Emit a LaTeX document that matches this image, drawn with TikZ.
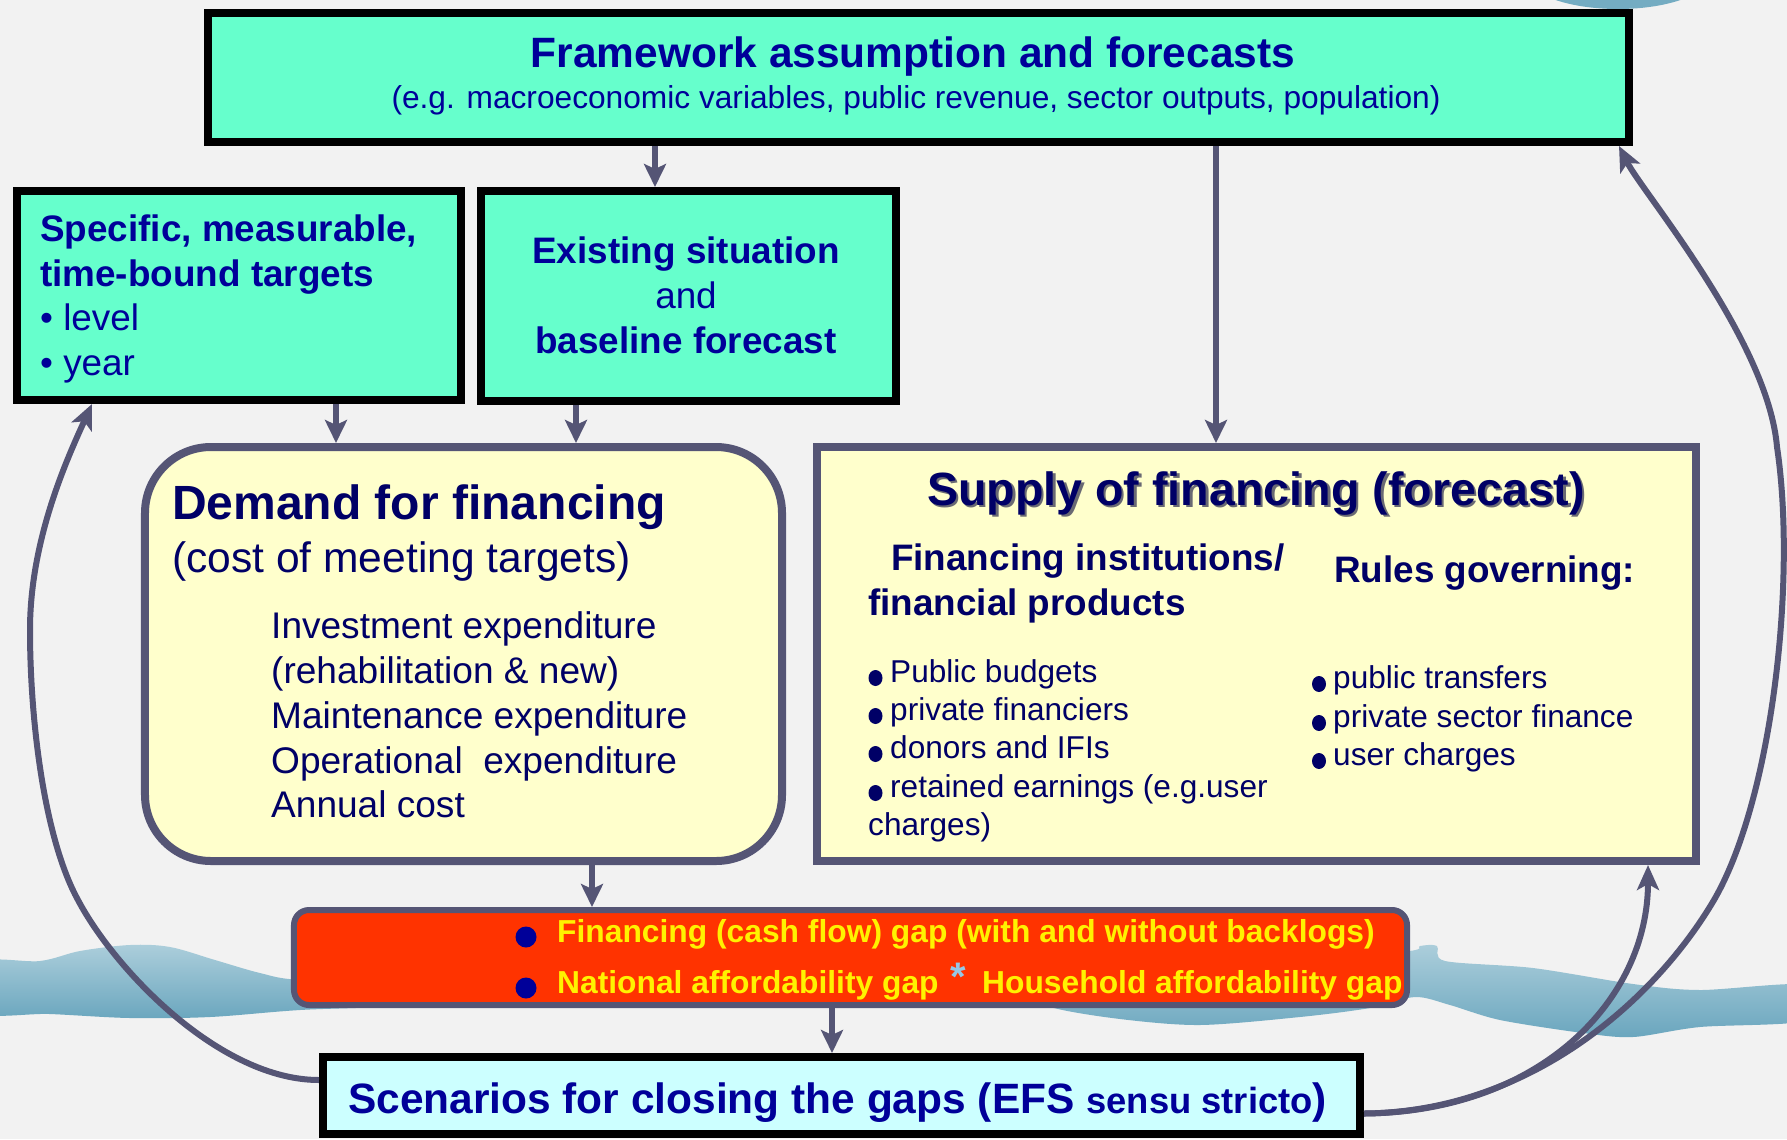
\documentclass[tikz,border=0pt]{standalone}
\usepackage{fontspec}
\setmainfont{Liberation Sans}
\usetikzlibrary{arrows.meta}

\definecolor{mint}{RGB}{102,255,204}
\definecolor{cream}{RGB}{255,255,204}
\definecolor{gapred}{RGB}{255,51,0}
\definecolor{palecyan}{RGB}{204,255,255}
\definecolor{slate}{RGB}{85,85,117}
\definecolor{navyA}{RGB}{0,0,153}
\definecolor{navyB}{RGB}{0,0,102}
\definecolor{paper}{RGB}{242,242,242}
\definecolor{waveTop}{RGB}{172,206,219}
\definecolor{waveBot}{RGB}{106,166,190}
\definecolor{starblue}{RGB}{150,200,230}
\definecolor{shadowgray}{RGB}{105,105,115}

\newcommand\fs[1]{\fontsize{#1}{#1}\selectfont}

\begin{document}
\begin{tikzpicture}[x=1bp, y=-1bp,
  every node/.style={inner sep=0pt},
  tl/.style={anchor=base west},
  tc/.style={anchor=base},
  bx/.style={rectangle, draw, line width=8bp},
  arr/.style={draw=slate, line width=6.5bp, -{Stealth[length=23bp,width=22bp,inset=5bp]}},
  loop/.style={draw=slate, line width=6bp, -{Stealth[length=25bp,width=22bp,inset=6bp]}}]

% page and background
\useasboundingbox (0,0) rectangle (1787,1139);
\fill[paper] (0,0) rectangle (1787,1139);

% water bands
\fill[waveBot!85!waveTop] (1618,-25) ellipse [x radius=92bp, y radius=34bp];
\shade[top color=waveTop, bottom color=waveBot] plot[smooth cycle, tension=0.55] coordinates
  {(-20,963) (40,961) (80,951) (130,945) (170,947) (215,960) (260,973) (300,980) (420,985)
   (420,1004) (300,1010) (210,1017) (130,1018) (50,1014) (-20,1012)};
\shade[top color=waveTop, bottom color=waveBot] plot[smooth cycle, tension=0.5] coordinates
  {(1000,985) (1200,965) (1400,952) (1420,946) (1437,946) (1445,961) (1533,968) (1633,984)
   (1700,990) (1810,985) (1810,1020) (1700,1027) (1633,1037) (1583,1033) (1500,1020)
   (1450,1005) (1415,997) (1370,1008) (1300,1017) (1200,1025) (1120,1019) (1050,1007)};

% boxes
\node[bx, fill=mint, minimum width=1421bp, minimum height=129bp] (fw) at (918.5,77.5) {};
\node[bx, fill=mint, minimum width=444bp, minimum height=209bp] (spec) at (239,295.5) {};
\node[bx, fill=mint, minimum width=415bp, minimum height=210bp] (exist) at (688.5,296) {};
\node[bx, draw=slate, fill=cream, rounded corners=66bp, minimum width=637bp, minimum height=414bp] (demand) at (463.5,654) {};
\node[bx, draw=slate, fill=cream, minimum width=879bp, minimum height=414bp] (supply) at (1256.5,654) {};
\node[rectangle, draw=slate, line width=6bp, fill=gapred, rounded corners=15bp, minimum width=1113bp, minimum height=95bp] (gap) at (850.5,957.5) {};
\node[bx, fill=palecyan, minimum width=1037bp, minimum height=77bp] (scen) at (841.5,1095.5) {};

% straight connectors
\draw[arr] (655,0 |- fw.south) -- (655,0 |- exist.north);
\draw[arr] (1216,0 |- fw.south) -- (1216,0 |- supply.north);
\draw[arr] (336,0 |- spec.south) -- (336,0 |- demand.north);
\draw[arr] (576,0 |- exist.south) -- (576,0 |- demand.north);
\draw[arr] (592,0 |- demand.south) -- (592,0 |- gap.north);
\draw[arr] (832,0 |- gap.south) -- (832,0 |- scen.north);

% framework text
\node[tc, font={\bfseries\fs{42.6}}, text=navyA] (fwT) at (913,67) {Framework assumption and forecasts};
\node[tc, font={\fs{31.8}}, text=navyA] (fwS) at (916,108) {(e.g. macroeconomic variables, public revenue, sector outputs, population)};

% targets
\node[tl, font={\bfseries\fs{37}}, text=navyA] (sp1) at (40,241) {Specific, measurable,};
\node[tl, font={\bfseries\fs{37}}, text=navyA] (sp2) at (40,286) {time-bound targets};
\node[tl, font={\fs{37}}, text=navyA] (sp3) at (40,330) {• level};
\node[tl, font={\fs{37}}, text=navyA] (sp4) at (40,375) {• year};

% existing situation
\node[tc, font={\bfseries\fs{37}}, text=navyA] (ex1) at (686,263) {Existing situation};
\node[tc, font={\fs{37}}, text=navyA] (ex2) at (686,308) {and};
\node[tc, font={\bfseries\fs{37}}, text=navyA] (ex3) at (686,353) {baseline forecast};

% demand
\node[tl, font={\bfseries\fs{48.2}}, text=navyB] (dm1) at (172,519) {Demand for financing};
\node[tl, font={\fs{42.7}}, text=navyB] (dm2) at (172,572) {(cost of meeting targets)};
\node[tl, font={\fs{37.2}}, text=navyB] (dm3) at (271,638) {Investment expenditure};
\node[tl, font={\fs{37.2}}, text=navyB] (dm4) at (271,683) {(rehabilitation \& new)};
\node[tl, font={\fs{37.2}}, text=navyB] (dm5) at (271,728) {Maintenance expenditure};
\node[tl, font={\fs{37.2}}, text=navyB] (dm6) at (271,773) {Operational\ \ expenditure};
\node[tl, font={\fs{37.2}}, text=navyB] (dm7) at (271,817) {Annual cost};

% supply
\node[tc, font={\bfseries\fs{46.8}}, text=shadowgray] (su0s) at (1258.5,507.5) {Supply of financing (forecast)};
\node[tc, font={\bfseries\fs{46.8}}, text=navyB] (su0) at (1256,505) {Supply of financing (forecast)};
\node[tl, font={\bfseries\fs{37}}, text=navyB] (su1) at (891,570) {Financing institutions/};
\node[tl, font={\bfseries\fs{37}}, text=navyB] (su2) at (868,615) {financial products};
\node[tl, font={\bfseries\fs{37}}, text=navyB] (su3) at (1334,582) {Rules governing:};

\foreach \yy/\txt [count=\i] in {682/Public budgets, 720/private financiers, 758/donors and IFIs, 797/{retained earnings (e.g.user}}{
  \fill[navyB] (875.5,\yy-4) ellipse [x radius=7bp, y radius=8bp];
  \node[tl, font={\fs{31.7}}, text=navyB] (sl\i) at (890,\yy) {\txt};
}
\node[tl, font={\fs{31.7}}, text=navyB] (sl5) at (868,835) {charges)};
\foreach \yy/\txt [count=\i] in {688/public transfers, 727/private sector finance, 765/user charges}{
  \fill[navyB] (1319,\yy-4) ellipse [x radius=7bp, y radius=8bp];
  \node[tl, font={\fs{31.7}}, text=navyB] (sr\i) at (1333,\yy) {\txt};
}

% gaps
\fill[navyA] (526,937) circle (10.5bp);
\fill[navyA] (526,988) circle (10.5bp);
\node[tl, font={\bfseries\fs{31.9}}, text=yellow] (g1) at (557,942) {Financing (cash flow) gap (with and without backlogs)};
\node[tl, font={\bfseries\fs{31.9}}, text=yellow] (g2) at (557,993) {National affordability gap};
\node[tc, font={\bfseries\fs{40}}, text=starblue] (g3) at (958,990) {*};
\node[tl, font={\bfseries\fs{31.9}}, text=yellow] (g4) at (982,993) {Household affordability gap};

% scenarios
\node[tl, font={\bfseries\fs{42.6}}, text=navyA] (sc) at (348,1113) {Scenarios for closing the gaps (EFS {\fs{36.5}sensu stricto})};

% feedback loops
\draw[loop] ([yshift=15.5bp]scen.west) .. controls (220,1080) and (115,970) .. (78,900)
  .. controls (44,838) and (30,720) .. (30,630)
  .. controls (30,540) and (67,459) .. ([xshift=79bp]spec.south west);
\draw[loop] ([yshift=-18bp]scen.east) .. controls (1540,1112) and (1648,1000) .. ([xshift=-52bp]supply.south east);
\draw[loop] ([yshift=-18bp]scen.east) .. controls (1530,1112) and (1655,1000) .. (1714,900)
  .. controls (1772,800) and (1797,580) .. (1777,447)
  .. controls (1768,340) and (1642,192) .. ([xshift=-14bp]fw.south east);
\end{tikzpicture}
\end{document}
